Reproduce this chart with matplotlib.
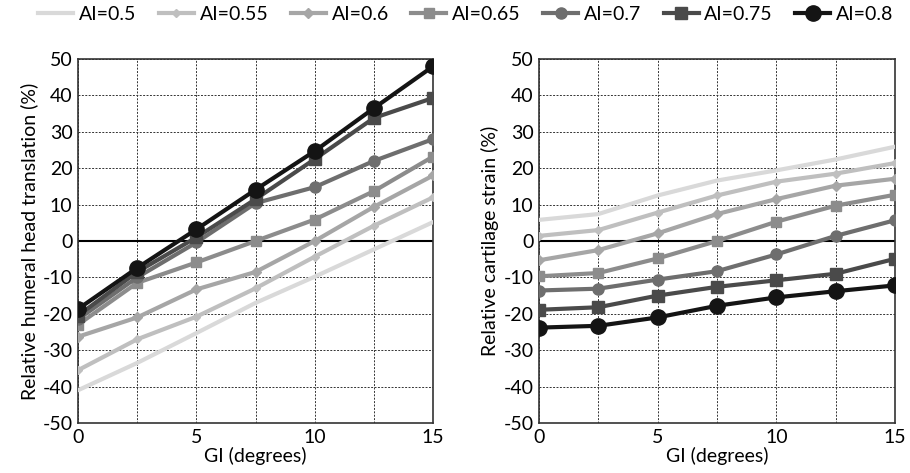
import numpy as np
import matplotlib.pyplot as plt

plt.rcParams['font.family'] = ['Lato', 'DejaVu Sans']
plt.rcParams['axes.unicode_minus'] = False

# GI values (degrees)
gi = [0, 2.5, 5, 7.5, 10, 12.5, 15]
ai_labels = ['AI=0.5', 'AI=0.55', 'AI=0.6', 'AI=0.65', 'AI=0.7', 'AI=0.75', 'AI=0.8']

# Relative humeral head translation (%)
translation = [
    [-41, -33.5, -25.3, -17, -9.8, -2.3, 5.2],
    [-35.5, -27, -20.8, -13, -4.3, 4.2, 12],
    [-26.3, -21, -13.3, -8.5, 0, 9.4, 18],
    [-23, -11.5, -5.9, 0, 5.9, 13.7, 23.2],
    [-21.5, -10, -0.4, 10.4, 14.8, 22, 28],
    [-20.5, -8.5, 1, 11.5, 22.5, 33.8, 39.3],
    [-18.7, -7.4, 3.2, 14.1, 24.7, 36.5, 48],
]

# Relative cartilage strain (%)
strain = [
    [5.8, 7.4, 12.5, 16.6, 19.4, 22.4, 25.9],
    [1.4, 3, 7.8, 12.5, 16.3, 18.5, 21.4],
    [-5.3, -2.5, 2.1, 7.4, 11.5, 15.2, 17.1],
    [-9.7, -8.8, -4.8, 0, 5.3, 9.7, 12.7],
    [-13.6, -13.1, -10.6, -8.3, -3.7, 1.4, 5.7],
    [-18.9, -18.2, -15, -12.6, -10.8, -9, -4.9],
    [-23.8, -23.3, -21, -17.8, -15.5, -13.8, -12.2],
]

colors = ['#d9d9d9', '#bfbfbf', '#a6a6a6', '#8c8c8c', '#6e6e6e', '#4a4a4a', '#141414']
markers = ['', 'D', 'D', 's', 'o', 's', 'o']
msizes = [0, 4, 5, 7, 8, 9, 11]

fig = plt.figure(figsize=(9.1, 4.73), dpi=100)
ax1 = fig.add_axes([0.0857, 0.1057, 0.3903, 0.7696])
ax2 = fig.add_axes([0.5923, 0.1057, 0.3912, 0.7696])

for ax, data, ylabel in [(ax1, translation, 'Relative humeral head translation (%)'),
                         (ax2, strain, 'Relative cartilage strain (%)')]:
    for i in range(len(ai_labels)):
        ax.plot(gi, data[i], color=colors[i], lw=3, marker=markers[i] or None,
                ms=msizes[i], mec=colors[i], mfc=colors[i], label=ai_labels[i], zorder=3 + i)
    ax.set_xlim(0, 15)
    ax.set_ylim(-50, 50)
    ax.set_xticks(gi)
    ax.set_xticklabels(['0', '', '5', '', '10', '', '15'])
    ax.set_yticks(np.arange(-50, 51, 10))
    ax.grid(True, color='#333333', ls=(0, (2, 1.5)), lw=0.7)
    ax.axhline(0, color='black', lw=1.5, zorder=2)
    ax.tick_params(length=0, labelsize=14, pad=4)
    ax.set_xlabel('GI (degrees)', fontsize=14, labelpad=1)
    ax.set_ylabel(ylabel, fontsize=14, labelpad=3)
    for s in ax.spines.values():
        s.set_color('#333333')
        s.set_linewidth(1.2)

handles, labels = ax1.get_legend_handles_labels()
fig.legend(handles, labels, loc='upper center', bbox_to_anchor=(0.512, 1.025), ncol=7,
           frameon=False, fontsize=14, handlelength=1.8, handletextpad=0.3, columnspacing=1.15)

fig.savefig('out.png', dpi=100)
